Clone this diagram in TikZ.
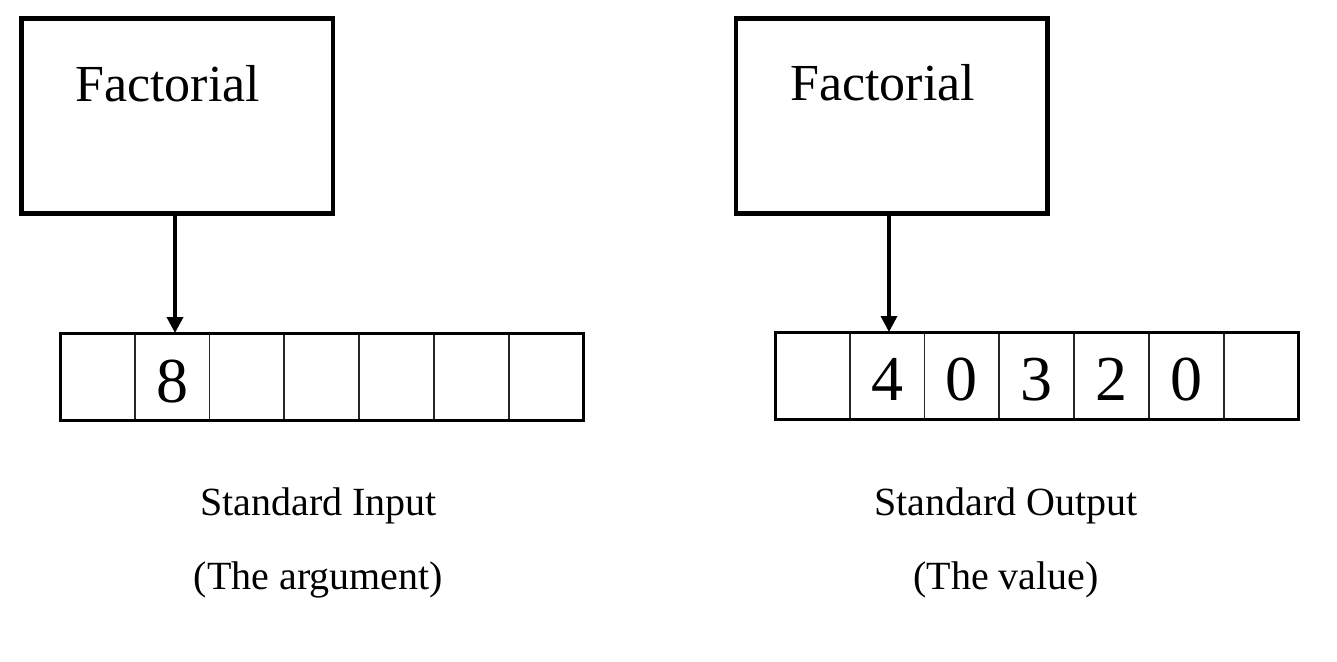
\documentclass[tikz,border=0pt]{standalone}
\usepackage{fontspec}
\setmainfont{Liberation Serif}
\usetikzlibrary{arrows.meta}
\begin{document}
\begin{tikzpicture}[x=1pt,y=-1pt,
  progbox/.style={draw=black,line width=4.5pt,minimum width=311.5pt,minimum height=195pt,inner sep=0pt,outer sep=0pt},
  progtitle/.style={anchor=base west,inner sep=0pt,font=\fontsize{52}{60}\selectfont},
  cellbox/.style={draw=black!85,line width=1.8pt,minimum width=74.79pt,minimum height=87pt,inner sep=0pt,outer sep=0pt},
  frame/.style={draw=black,line width=3pt,minimum width=523.5pt,minimum height=87pt,inner sep=0pt,outer sep=0pt},
  digit/.style={anchor=base,inner sep=0pt,font=\fontsize{64}{70}\selectfont},
  caption/.style={anchor=base,inner sep=0pt,font=\fontsize{40}{46}\selectfont},
  flow/.style={line width=3.5pt,-{Triangle[width=16pt,length=16pt]}}
]
\useasboundingbox (0,0) rectangle (1337,661);

% ---------- left side ----------
\node[progbox] (lbox) at (177.25,116) {};
\node[progtitle] (ltitle) at (75,101) {Factorial};

\foreach \i in {1,...,7}{
  \node[cellbox] (l\i) at ({60+74.79*(\i-0.5)},376.5) {};
}
\node[frame] (lframe) at (321.75,376.5) {};
\node[digit] (ld) at (l2.center |- 0,402) {8};

\draw[flow] (lbox.south -| 175,0) -- (l2.north -| 175,0);

\node[caption] (lcap1) at (318.5,515) {Standard Input};
\node[caption] (lcap2) at (318.5,589) {(The argument)};

% ---------- right side ----------
\node[progbox] (rbox) at (891.75,116) {};
\node[progtitle] (rtitle) at (790,100) {Factorial};

\foreach \i in {1,...,7}{
  \node[cellbox] (r\i) at ({775+74.79*(\i-0.5)},375.5) {};
}
\node[frame] (rframe) at (1036.75,375.5) {};
\node[digit] (rd2) at (r2.center |- 0,400) {4};
\node[digit] (rd3) at (r3.center |- 0,400) {0};
\node[digit] (rd4) at (r4.center |- 0,400) {3};
\node[digit] (rd5) at (r5.center |- 0,400) {2};
\node[digit] (rd6) at (r6.center |- 0,400) {0};

\draw[flow] (rbox.south -| 889,0) -- (r2.north -| 889,0);

\node[caption] (rcap1) at (1006,515) {Standard Output};
\node[caption] (rcap2) at (1006,589) {(The value)};
\end{tikzpicture}
\end{document}
